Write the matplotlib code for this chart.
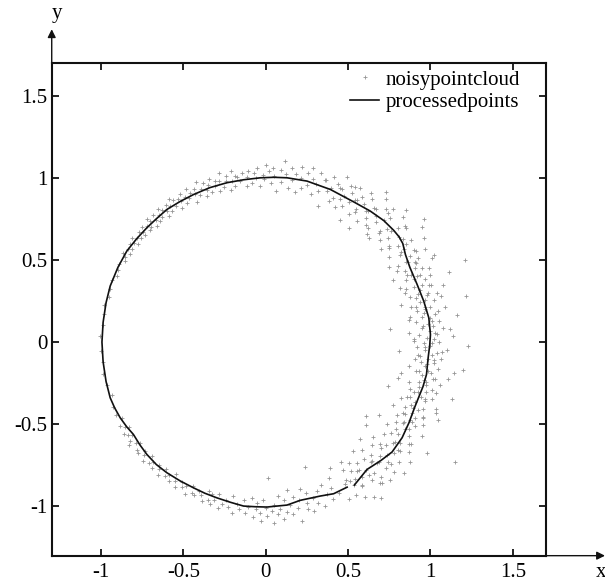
import numpy as np
import matplotlib
matplotlib.use("Agg")
import matplotlib.pyplot as plt

plt.rcParams['font.family'] = ['Liberation Serif', 'DejaVu Serif']
plt.rcParams['font.size'] = 15

# noisy point cloud as (angle in degrees, radius)
cloud_angle = [
    # right side, wide scatter
    -30, -29.5, -29, -28.5, -28, -27.5, -27, -26.5, -26, -25.5, -25, -24.5, -24, -23.5, -23, -22.5,
    -22, -21.5, -21, -20.5, -20, -19.5, -19, -18.5, -18, -17.5, -17, -16.5, -16, -15.5, -15, -14.5,
    -14, -13.5, -13, -12.5, -12, -11.5, -11, -10.5, -10, -9.5, -9, -8.5, -8, -7.5, -7, -6.5, -6,
    -5.5, -5, -4.5, -4, -3.5, -3, -2.5, -2, -1.5, -1, -0.5, 0, 0.5, 1, 1.5, 2, 2.5, 3, 3.5, 4, 4.5,
    5, 5.5, 6, 6.5, 7, 7.5, 8, 8.5, 9, 9.5, 10, 10.5, 11, 11.5, 12, 12.5, 13, 13.5, 14, 14.5, 15,
    15.5, 16, 16.5, 17, 17.5, 18, 18.5, 19, 19.5, 20, 20.5, 21, 21.5, 22, 22.5, 23, 23.5, 24, 24.5,
    25, 25.5, 26, 26.5, 27, 27.5, 28, 28.5, 29, 29.5,
    # upper right
    30, 30.5, 31, 31.5, 32, 33, 33.5, 34, 34.5, 35, 36, 36.5, 37, 37.5, 38, 38.5, 39, 40, 40.5, 41,
    42, 42.5, 43, 43.5, 44, 45, 45.5, 46, 46.5, 47, 47.5, 48, 49, 49.5, 50, 50.5, 51, 51.5, 52, 53,
    53.5, 54, 54.5, 55, 56, 56.5, 57, 58, 58.5, 59, 59.5, 60, 61, 61.5, 62, 63, 63.5, 64, 65, 65.5,
    66, 67, 67.5, 68, 69, 69.5,
    # top
    70, 71, 72, 72.5, 73, 74, 75, 75.5, 76, 77, 78, 78.5, 79, 80, 81, 81.5, 82, 83, 84, 84.5, 85,
    86, 87, 87.5, 88, 89, 90, 90.5, 91, 92, 93, 93.5, 94, 95, 96, 96.5, 97, 98, 99, 100,
    # upper left
    100.5, 101, 101.5, 102, 103, 103.5, 104, 105, 105.5, 106, 107, 107.5, 108, 109, 109.5, 110,
    111, 111.5, 112, 113, 113.5, 114, 115, 115.5, 116, 117, 117.5, 118, 119, 119.5, 120, 121,
    121.5, 122, 123, 123.5, 124, 125, 125.5, 126, 127, 127.5, 128, 129, 129.5, 130, 131, 131.5,
    132, 133, 133.5, 134, 135, 135.5, 136, 137, 138, 138.5, 139, 140, 141, 142, 142.5, 143, 144,
    145, 146, 147, 148, 149, 150, 152, 154, 156, 158,
    # left
    161, 164, 167, 170, 174, 178, 183, 187, 191, 195, 199, 203,
    # lower left
    206, 208, 210, 211, 212, 213, 214, 215, 216, 217, 218, 219, 220, 221, 222, 223, 224, 225, 226,
    227, 228, 229, 230, 231, 232, 233, 234, 235, 236, 237, 238, 239, 240, 241, 242, 243, 244, 245,
    246, 247, 248, 249, 250,
    # bottom
    250.5, 251, 252, 253, 254, 255, 256, 257, 258, 259, 260, 261, 262, 263, 264, 265, 266, 266.5,
    267, 268, 268.5, 269, 270, 270.5, 271, 272, 272.5, 273, 274, 274.5, 275, 276, 276.5, 277, 278,
    278.5, 279, 280, 281, 281.5, 282, 283, 284, 284.5, 285, 286, 287, 287.5, 288, 289, 290, 291,
    292, 293, 294, 295, 296, 297, 298, 299,
    # lower right
    -60, -59.5, -59, -58.5, -58, -57.5, -57, -56.5, -56, -55.5, -55, -54.5, -54, -53.5, -53, -52.5,
    -52, -51.5, -51, -50.5, -50, -49.5, -49, -48.5, -48, -47.5, -47, -46.5, -46, -45.5, -45, -44.5,
    -44, -43.5, -43, -42.5, -42, -41.5, -41, -40.5, -40, -39.5, -39, -38.5, -38, -37.5, -37, -36.5,
    -36, -35.5, -35, -34.5, -34, -33.5, -33, -32.5, -32, -31.5, -31, -30.5,
]
cloud_radius = [
    0.97, 1.04, 0.91, 1.00, 1.08, 0.95, 1.02, 0.86, 0.99, 1.06, 0.93, 1.15, 1.01, 0.96, 1.04, 0.89,
    0.98, 1.11, 0.94, 1.03, 0.79, 1.00, 1.07, 0.95, 0.92, 1.02, 1.18, 0.97, 1.05, 0.90, 1.01, 0.96,
    1.09, 0.99, 0.84, 1.04, 0.97, 1.13, 0.93, 1.02, 1.00, 0.88, 1.06, 0.98, 1.21, 0.95, 1.03, 0.91, 0.99,
    1.07, 0.94, 1.01, 0.81, 1.04, 0.97, 1.10, 0.92, 1.00, 1.23, 0.96, 1.05, 0.90, 1.02, 0.98, 1.14, 0.93, 1.03, 0.87, 1.00, 1.08,
    0.95, 1.02, 0.76, 0.99, 1.06, 0.92, 1.17, 1.01, 0.96, 1.04, 0.89, 0.98, 1.11, 0.94, 1.02, 0.99, 1.25, 0.91, 1.05, 0.97, 1.00,
    0.85, 1.08, 0.95, 1.03, 0.92, 1.13, 0.99, 1.06, 0.90, 1.01, 0.96, 1.19, 1.04, 0.88, 1.31, 0.98, 1.02, 0.93, 1.09,
    0.97, 1.05, 0.86, 1.01, 0.95, 1.15, 1.03, 0.91, 1.06, 0.99,
    0.93, 1.12, 1.02, 0.88, 1.06, 0.97, 1.15, 1.01, 0.91, 1.08, 0.99, 1.18, 1.04, 0.94, 1.22, 1.03, 0.90, 1.10, 0.98, 1.06,
    0.93, 1.13, 1.01, 1.17, 0.96, 1.07, 0.89, 1.03, 1.12, 0.90, 0.99, 1.09, 1.02, 0.94, 1.14, 1.05, 0.97, 1.17, 1.01, 0.92,
    1.08, 0.86, 1.03, 1.11, 0.98, 1.06, 0.93, 1.02, 1.10, 0.87, 0.99, 1.05, 0.95, 1.08, 1.01, 0.92, 1.04, 1.12, 0.97, 1.06,
    0.94, 1.02, 1.09, 0.99, 0.89, 1.05,
    1.05, 0.97, 1.08, 1.01, 0.94, 1.03, 1.10, 0.99, 1.06, 0.96, 1.02, 1.09, 0.93, 1.04, 1.00, 1.07, 0.95, 1.03, 1.11, 0.98, 1.05,
    0.92, 1.01, 1.06, 0.97, 1.04, 1.08, 0.99, 1.02, 0.95, 1.06, 1.00, 1.03, 0.97, 1.05, 1.01, 0.96, 1.04, 0.99, 1.02,
    1.03, 0.97, 1.06, 1.00, 0.95, 1.04, 1.01, 0.98, 1.07, 1.02, 0.96, 1.03, 1.00, 1.05, 0.97, 1.02,
    0.99, 1.04, 0.96, 1.01, 1.06, 0.98, 1.03, 1.00, 0.95, 1.02, 1.05, 0.99, 1.01, 0.97, 1.04, 1.00,
    1.02, 0.96, 1.03, 0.99, 1.05, 1.01, 0.98, 1.03, 1.00, 0.97, 1.02, 1.04, 0.99, 1.01, 0.98, 1.03,
    1.00, 0.97, 1.02, 1.04, 0.99, 1.01, 0.98, 1.03, 1.00, 0.98, 1.02, 0.99, 1.01, 1.03, 0.98, 1.00, 1.02,
    0.99, 1.01, 0.98, 1.02, 1.00, 0.99, 1.01, 1.00, 0.99, 1.01,
    1.00, 0.99, 1.01, 1.00, 0.995, 1.005, 1.00, 0.995, 1.005, 1.00, 0.99, 1.01,
    1.01, 0.99, 1.02, 1.00, 0.98, 1.03, 1.01, 0.99, 1.02, 1.04, 1.00, 0.98, 1.02, 1.03, 0.99, 1.01, 1.04, 0.98, 1.02,
    1.00, 1.03, 0.99, 1.01, 1.04, 0.98, 1.02, 1.00, 1.03, 0.97, 1.01, 1.04, 0.99, 1.02, 1.00, 1.05, 0.98, 1.02, 1.03,
    0.99, 1.01, 1.04, 0.97, 1.02,
    0.98, 1.04, 1.01, 0.97, 1.05, 1.02, 0.99, 1.03, 0.96, 1.06, 1.00, 1.03, 0.97, 1.05, 1.01, 0.95, 1.07, 1.02,
    0.98, 1.04, 1.09, 0.96, 1.01, 1.06, 0.83, 1.03, 1.10, 0.99, 1.05, 0.94, 1.02, 1.08, 0.97, 1.04, 0.91,
    1.00, 1.06, 0.96, 1.03, 1.11, 0.98, 0.92, 1.05, 1.01, 0.95, 1.07, 0.99, 0.80, 1.03, 0.96, 1.06, 0.93,
    1.00, 1.04, 0.97, 0.91, 1.02, 0.86, 1.08, 0.99,
    0.97, 1.08, 0.91, 1.02, 0.86, 1.12, 0.99, 0.94, 1.05, 0.89, 1.15, 1.01, 0.96, 1.18, 0.92, 1.06,
    0.99, 0.85, 1.10, 1.03, 0.93, 1.08, 0.97, 0.88, 1.13, 1.00, 0.94, 1.06, 0.82, 1.11, 0.98, 1.04,
    0.90, 1.16, 1.01, 0.95, 1.09, 0.87, 1.03, 0.96, 1.14, 0.79, 1.05, 0.99, 0.91, 1.10, 1.02, 0.76,
    0.94, 1.07, 0.98, 1.19, 0.89, 1.04, 0.82, 1.36, 1.00, 0.93, 1.11, 0.97,
]

# further cloud points on the noisy right half
cloud2_angle = [
    -28.7, -27.2, -25.8, -24.1, -22.6, -21.3, -19.8, -18.2, -16.7, -15.3,
    -13.9, -12.2, -10.8, -9.3, -7.7, -6.2, -4.8, -3.3, -1.7, -0.2,
    1.3, 2.8, 4.2, 5.7, 7.3, 8.8, 10.2, 11.7, 13.3, 14.8,
    16.2, 17.7, 19.3, 20.8, 22.2, 23.7, 25.3, 26.8, 28.2, 29.7,
    31.3, 33.8, 35.2, 37.8, 39.3, 41.7, 44.2, 46.8, 48.3, 51.2,
    52.7, 55.8, 57.3, 60.2, 62.8, 64.3,
    -31.3, -33.7, -35.2, -37.8, -39.3, -41.7, -44.2, -46.8, -48.3, -50.7,
    -52.2, -54.8, -56.3, -58.7,
]
cloud2_radius = [
    1.01, 0.94, 1.06, 0.98, 1.12, 0.92, 1.03, 0.97, 1.08, 0.83,
    1.00, 1.05, 0.95, 1.16, 0.99, 1.03, 0.93, 1.07, 0.97, 1.01,
    0.90, 1.04, 1.12, 0.96, 1.02, 0.88, 1.06, 0.99, 0.94, 1.10,
    1.02, 0.97, 1.05, 0.91, 1.08, 1.00, 0.95, 1.13, 1.03, 0.98,
    1.07, 0.99, 1.04, 0.95, 1.10, 1.02, 0.97, 1.08, 0.93, 1.05,
    1.00, 0.96, 1.03, 1.09, 0.98, 1.04,
    1.02, 0.95, 1.08, 0.99, 1.04, 0.93, 1.06, 1.00, 0.97, 1.11,
    1.02, 0.96, 1.05, 0.99,
]

# processed (smoothed) curve
curve_x = [0.538, 0.615, 0.700, 0.767, 0.828, 0.870, 0.905, 0.935, 0.955, 0.976, 0.986, 0.996,
           1.000, 0.990, 0.959, 0.919, 0.875, 0.848, 0.832, 0.810, 0.777, 0.716, 0.635, 0.540,
           0.392, 0.250, 0.129, 0.050, -0.033, -0.135, -0.236, -0.340, -0.439, -0.520, -0.601,
           -0.665, -0.722, -0.785, -0.844, -0.898, -0.945, -0.970, -0.988, -0.995, -0.988,
           -0.970, -0.945, -0.918, -0.884, -0.845, -0.804, -0.765, -0.722, -0.665, -0.601,
           -0.520, -0.439, -0.370, -0.297, -0.215, -0.135, -0.065, 0.007, 0.129, 0.210, 0.331,
           0.412, 0.494]
curve_y = [-0.870, -0.775, -0.720, -0.669, -0.582, -0.490, -0.395, -0.320, -0.270, -0.197,
           -0.096, -0.015, 0.046, 0.148, 0.250, 0.351, 0.455, 0.533, 0.600, 0.640, 0.680, 0.740,
           0.797, 0.850, 0.929, 0.980, 1.000, 1.003, 1.000, 0.988, 0.970, 0.940, 0.898, 0.856,
           0.807, 0.750, 0.696, 0.628, 0.554, 0.455, 0.341, 0.240, 0.120, 0.000, -0.120,
           -0.240, -0.339, -0.400, -0.461, -0.515, -0.562, -0.625, -0.684, -0.745, -0.795,
           -0.845, -0.887, -0.920, -0.948, -0.975, -0.998, -1.002, -1.004, -0.992, -0.963,
           -0.937, -0.923, -0.883]

tick_values = [-1, -0.5, 0, 0.5, 1, 1.5]
tick_labels = ['-1', '-0.5', '0', '0.5', '1', '1.5']

ang = np.radians(cloud_angle + cloud2_angle)
rad = np.array(cloud_radius + cloud2_radius)
cloud_x = rad * np.cos(ang)
cloud_y = rad * np.sin(ang)

fig = plt.figure(figsize=(6.05, 5.84), dpi=100)
ax = fig.add_axes([0.0855, 0.0485, 0.8165, 0.844])

ax.plot(cloud_x, cloud_y, linestyle='none', marker='+', markersize=2.2,
        markeredgewidth=0.6, color='#959595', label='noisypointcloud')
ax.plot(curve_x, curve_y, color='#111111', linewidth=1.2, label='processedpoints')

ax.set_xlim(-1.3, 1.7)
ax.set_ylim(-1.3, 1.7)
ax.set_xticks(tick_values)
ax.set_yticks(tick_values)
ax.set_xticklabels(tick_labels)
ax.set_yticklabels(tick_labels)
ax.tick_params(direction='in', length=5, width=1.2, top=True, right=True)
ax.tick_params(axis='y', pad=3)
ax.tick_params(axis='x', pad=5)
for sp in ax.spines.values():
    sp.set_linewidth(1.5)
    sp.set_color('#111111')

# axis arrows outside the box
ax.annotate('', xy=(0, 1.068), xytext=(0, 1.0), xycoords='axes fraction',
            arrowprops=dict(arrowstyle='-|>', color='#111111', lw=1.0, mutation_scale=12,
                            shrinkA=0, shrinkB=0), annotation_clip=False)
ax.annotate('', xy=(1.12, 0), xytext=(1.0, 0), xycoords='axes fraction',
            arrowprops=dict(arrowstyle='-|>', color='#111111', lw=1.0, mutation_scale=12,
                            shrinkA=0, shrinkB=0), annotation_clip=False)
ax.text(0.011, 1.1, 'y', transform=ax.transAxes, ha='center', va='center')
ax.text(1.112, -0.035, 'x', transform=ax.transAxes, ha='center', va='center')

ax.legend(loc='upper right', bbox_to_anchor=(0.948, 0.985), frameon=False, numpoints=1,
          handlelength=1.4, handletextpad=0.3, labelspacing=0.15, borderpad=0, borderaxespad=0)

fig.savefig('out.png', dpi=100)
